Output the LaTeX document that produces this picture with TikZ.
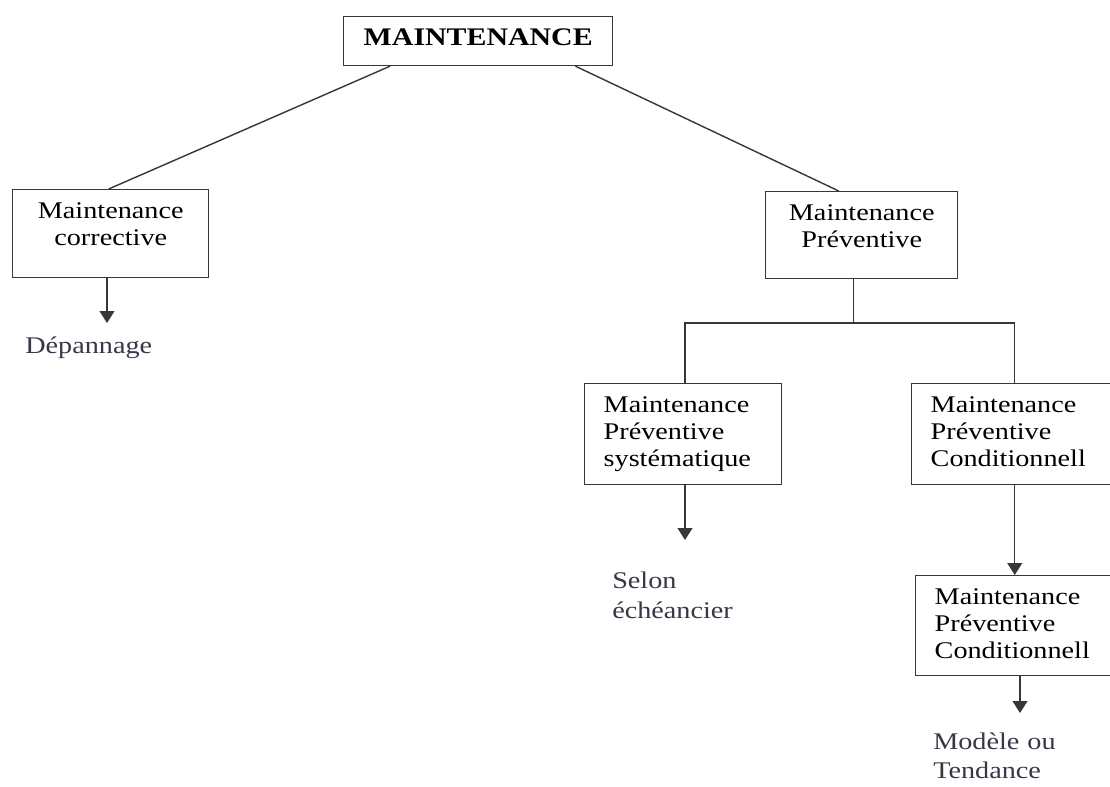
\documentclass[tikz,border=0pt]{standalone}
\usepackage{fontspec}
\setmainfont{Liberation Serif}[FakeStretch=1.18]
\usetikzlibrary{arrows.meta,calc}
\definecolor{lblgray}{RGB}{55,55,70}
\definecolor{linegray}{RGB}{55,55,55}
\tikzset{
	box/.style={draw=linegray, line width=1pt, anchor=north west, inner xsep=13.5pt, inner ysep=9pt, text height=11.6pt, font=\fontsize{17}{19}\selectfont},
	link/.style={draw=linegray, line width=1pt},
	arr/.style={link, -{Triangle[width=10.5pt,length=8.5pt]}},
	lbl/.style={anchor=north west, inner sep=0pt, text=lblgray, text width=4cm, align=left, font=\fontsize{17}{21}\selectfont}
}

\begin{document}
\begin{tikzpicture}[x=0.025cm, y=-0.025cm]
			%%%%% START %%%%%
			\useasboundingbox (0,0) rectangle (1110,787);
			\clip (0,0) rectangle (1110,787);
			
			\node[box, text depth=5.1pt, minimum width=6.725cm, font=\fontsize{18}{19}\selectfont\bfseries] (top) at (343,16) {MAINTENANCE};
			
			\node[box, text depth=32.8pt, text width=4.9cm-27pt, align=center] (corr) at (12,189) {Maintenance\\corrective};
			\node[box, text depth=32.1pt, text width=4.8cm-27pt, align=center] (prev) at (765,191) {Maintenance\\Préventive};
			
			\node[box, text depth=42pt, text width=4.925cm-27pt, align=left] (syst) at (584,383) {Maintenance\\Préventive\\systématique};
			\node[box, text depth=42pt, text width=5.15cm-27pt, align=left] (cond) at (911,383) {Maintenance\\Préventive\\Conditionnell};
			\node[box, text depth=41.3pt, text width=5.25cm-27pt, align=left] (condb) at (915,575) {Maintenance\\Préventive\\Conditionnell};
			
			\node[lbl] (dep) at (25,337) {Dépannage};
			\node[lbl] (selon) at (612,572) {Selon\\échéancier};
			\node[lbl, font=\fontsize{17}{20}\selectfont] (model) at (933,733) {Modèle ou\\Tendance};
			
			\coordinate (corrend) at (107,323);
			\coordinate (systend) at (685,540);
			\coordinate (condend) at (1020,713);
			
			\draw[link] ($(top.south west)+(47,0)$) -- ($(corr.north)+(-2,0)$);
			\draw[link] ($(top.south east)+(-38,0)$) -- ($(prev.north)+(-23,0)$);
			
			\draw[link] ($(prev.south)+(-8,0)$) -- ++(0,44) coordinate (fork);
			\draw[link] (systend |- syst.north) |- (fork) -| (cond.north);
			
			\draw[arr] (corrend |- corr.south) -- (corrend);
			\draw[arr] (systend |- syst.south) -- (systend);
			\draw[arr] (cond.north |- cond.south) -- (cond.north |- condb.north);
			\draw[arr] (condend |- condb.south) -- (condend);
			%%%%% END %%%%%
		\end{tikzpicture}
\end{document}
